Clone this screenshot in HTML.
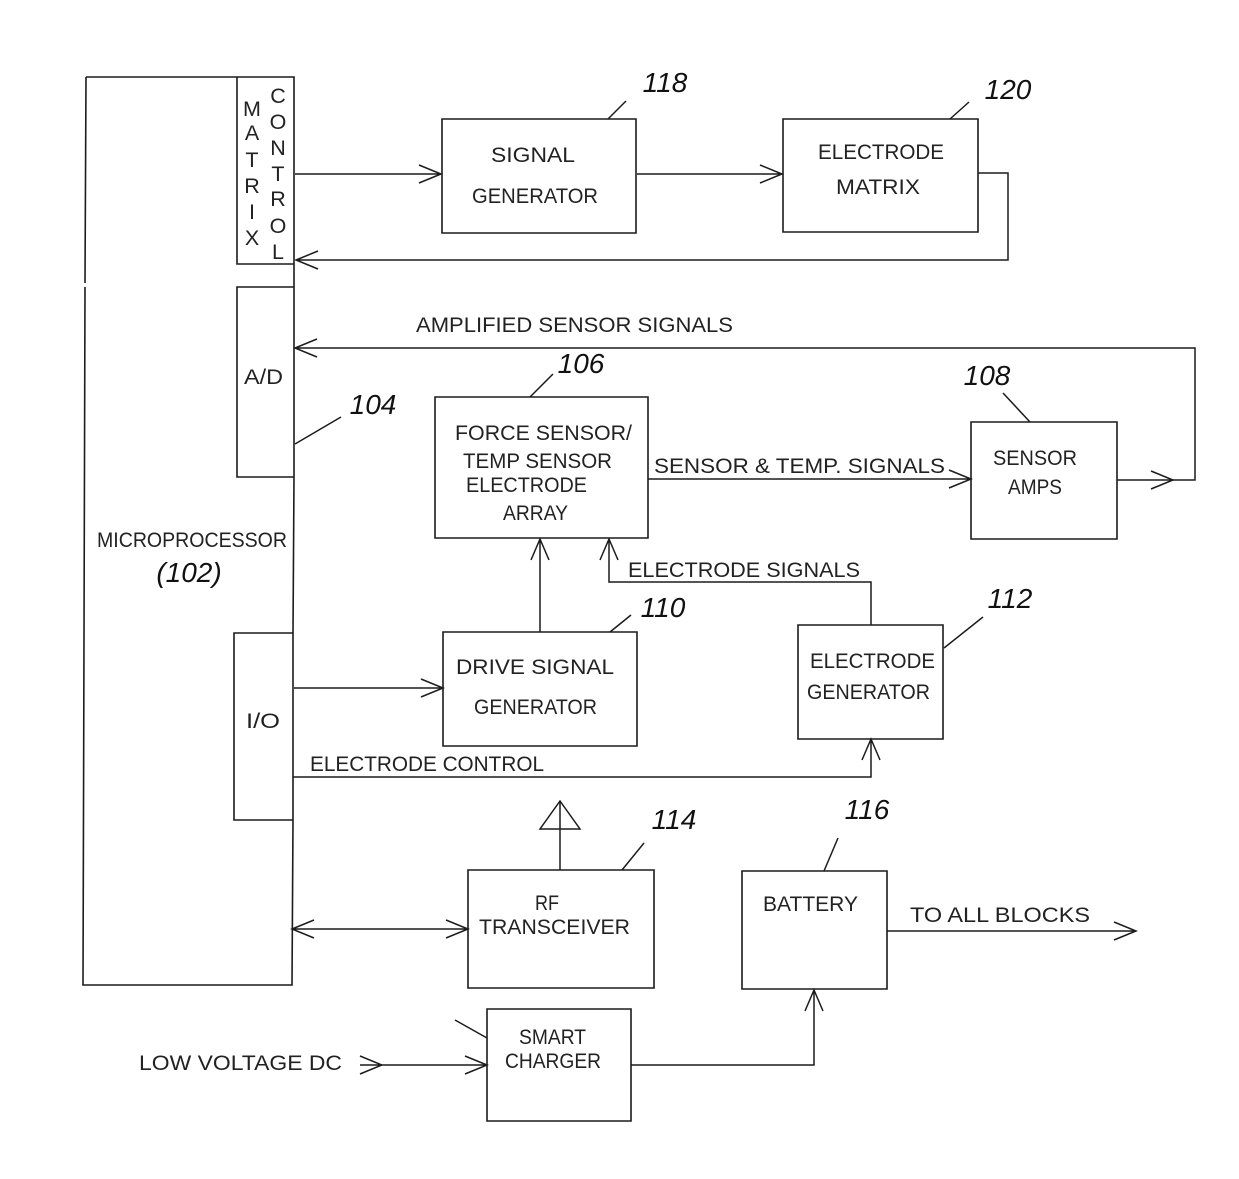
<!DOCTYPE html>
<html><head><meta charset="utf-8"><style>html,body{margin:0;padding:0;background:#fff}svg{display:block}
.b{fill:none;stroke:#1c1c1c;stroke-width:1.6}
.a{fill:none;stroke:#1c1c1c;stroke-width:1.5}
text{font-family:"Liberation Sans",sans-serif;font-size:21.5px;fill:#222;text-anchor:start}
.v{text-anchor:middle}
.n{font-family:"Liberation Sans",sans-serif;font-style:italic;font-size:28px;fill:#111;text-anchor:middle}
</style></head><body>
<svg width="1239" height="1179" viewBox="0 0 1239 1179" xmlns="http://www.w3.org/2000/svg">
<rect width="1239" height="1179" fill="#fff"/>
<!-- microprocessor -->
<path class="b" d="M86 77H294V264H237V77M294 264V287M237 287H294V477H237ZM294 477L293 633V820H234V633H293M293 820L292 985H83L85 287M85 283L86 77"/>
<!-- boxes -->
<path class="b" d="M442 119H636V233H442Z"/>
<path class="b" d="M783 119H978V232H783Z"/>
<path class="b" d="M435 397H648V538H435Z"/>
<path class="b" d="M971 422H1117V539H971Z"/>
<path class="b" d="M443 632H637V746H443Z"/>
<path class="b" d="M798 625H943V739H798Z"/>
<path class="b" d="M468 870H654V988H468Z"/>
<path class="b" d="M742 871H887V989H742Z"/>
<path class="b" d="M487 1009H631V1121H487Z"/>
<!-- connectors -->
<path class="a" d="M295 174H441M419 165L441 174L419 183"/>
<path class="a" d="M637 174H782M760 165L782 174L760 183"/>
<path class="a" d="M978 173H1008V260H296M318 251L296 260L318 269"/>
<path class="a" d="M1117 480H1195V348H295M317 339L295 348L317 357"/>
<path class="a" d="M1151 471L1173 480L1151 489"/>
<path class="a" d="M648 479H971M949 470L971 479L949 488"/>
<path class="a" d="M540 632V539M531 560L540 539L549 560"/>
<path class="a" d="M871 625V582H609V539M600 560L609 539L618 560"/>
<path class="a" d="M294 688H443M421 679L443 688L421 697"/>
<path class="a" d="M293 777H871V739M862 760L871 739L880 760"/>
<path class="a" d="M560 870V801M540 829H580L560 801Z"/>
<path class="a" d="M292 929H468M314 920L292 929L314 938M446 920L468 929L446 938"/>
<path class="a" d="M887 931H1136M1114 922L1136 931L1114 940"/>
<path class="a" d="M631 1065H814V990M805 1011L814 990L823 1011"/>
<path class="a" d="M360 1065H487M465 1056L487 1065L465 1074M360 1056L382 1065L360 1074"/>
<!-- leaders -->
<path class="a" d="M608 119L626 101M950 119L969 102M530 397L553 374M1030 422L1003 393M295 444L341 417M610 632L631 615M944 648L983 617M622 870L644 843M824 871L838 838M455 1020L487 1038"/>
<!-- labels -->
<text class="v" x="252" y="116">M</text><text class="v" x="252" y="140">A</text><text class="v" x="252" y="167">T</text><text class="v" x="252" y="193">R</text><text class="v" x="252" y="219">I</text><text class="v" x="252" y="245">X</text>
<text class="v" x="278" y="103">C</text><text class="v" x="278" y="129">O</text><text class="v" x="278" y="155">N</text><text class="v" x="278" y="181">T</text><text class="v" x="278" y="206">R</text><text class="v" x="278" y="233">O</text><text class="v" x="278" y="259">L</text>
<text x="244" y="384" lengthAdjust="spacingAndGlyphs" textLength="39">A/D</text>
<text x="246" y="728" lengthAdjust="spacingAndGlyphs" textLength="34">I/O</text>
<text x="97" y="547" lengthAdjust="spacingAndGlyphs" textLength="190">MICROPROCESSOR</text>
<text class="n" x="189" y="582">(102)</text>
<text x="491" y="162" lengthAdjust="spacingAndGlyphs" textLength="84">SIGNAL</text>
<text x="472" y="203" lengthAdjust="spacingAndGlyphs" textLength="126">GENERATOR</text>
<text x="818" y="159" lengthAdjust="spacingAndGlyphs" textLength="126">ELECTRODE</text>
<text x="836" y="194" lengthAdjust="spacingAndGlyphs" textLength="84">MATRIX</text>
<text x="416" y="332" lengthAdjust="spacingAndGlyphs" textLength="317">AMPLIFIED SENSOR SIGNALS</text>
<text x="455" y="440" lengthAdjust="spacingAndGlyphs" textLength="177">FORCE SENSOR/</text>
<text x="463" y="468" lengthAdjust="spacingAndGlyphs" textLength="149">TEMP SENSOR</text>
<text x="466" y="492" lengthAdjust="spacingAndGlyphs" textLength="121">ELECTRODE</text>
<text x="503" y="520" lengthAdjust="spacingAndGlyphs" textLength="65">ARRAY</text>
<text x="654" y="473" lengthAdjust="spacingAndGlyphs" textLength="291">SENSOR &amp; TEMP. SIGNALS</text>
<text x="993" y="465" lengthAdjust="spacingAndGlyphs" textLength="84">SENSOR</text>
<text x="1008" y="494" lengthAdjust="spacingAndGlyphs" textLength="54">AMPS</text>
<text x="628" y="577" lengthAdjust="spacingAndGlyphs" textLength="232">ELECTRODE SIGNALS</text>
<text x="456" y="674" lengthAdjust="spacingAndGlyphs" textLength="158">DRIVE SIGNAL</text>
<text x="474" y="714" lengthAdjust="spacingAndGlyphs" textLength="123">GENERATOR</text>
<text x="810" y="668" lengthAdjust="spacingAndGlyphs" textLength="125">ELECTRODE</text>
<text x="807" y="699" lengthAdjust="spacingAndGlyphs" textLength="123">GENERATOR</text>
<text x="310" y="771" lengthAdjust="spacingAndGlyphs" textLength="234">ELECTRODE CONTROL</text>
<text x="535" y="910" lengthAdjust="spacingAndGlyphs" textLength="24">RF</text>
<text x="479" y="934" lengthAdjust="spacingAndGlyphs" textLength="151">TRANSCEIVER</text>
<text x="763" y="911" lengthAdjust="spacingAndGlyphs" textLength="95">BATTERY</text>
<text x="910" y="922" lengthAdjust="spacingAndGlyphs" textLength="180">TO ALL BLOCKS</text>
<text x="519" y="1044" lengthAdjust="spacingAndGlyphs" textLength="67">SMART</text>
<text x="505" y="1068" lengthAdjust="spacingAndGlyphs" textLength="96">CHARGER</text>
<text x="139" y="1070" lengthAdjust="spacingAndGlyphs" textLength="203">LOW VOLTAGE DC</text>
<!-- numbers -->
<text class="n" x="665" y="92">118</text>
<text class="n" x="1008" y="99">120</text>
<text class="n" x="581" y="373">106</text>
<text class="n" x="987" y="385">108</text>
<text class="n" x="373" y="414">104</text>
<text class="n" x="663" y="617">110</text>
<text class="n" x="1010" y="608">112</text>
<text class="n" x="674" y="829">114</text>
<text class="n" x="867" y="819">116</text>
</svg></body></html>
